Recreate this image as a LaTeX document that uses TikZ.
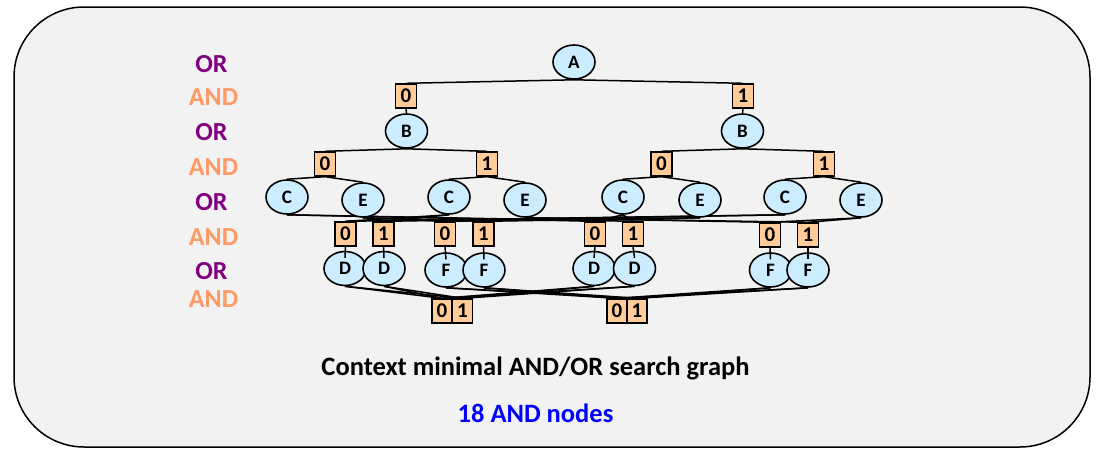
\documentclass[tikz,border=0pt]{standalone}
\usepackage{fontspec}
\setmainfont{Carlito}
\usetikzlibrary{calc,backgrounds,shapes.geometric}
\definecolor{orfill}{RGB}{204,236,255}
\definecolor{andfill}{RGB}{255,204,153}
\definecolor{panel}{RGB}{242,242,242}
\definecolor{orlab}{RGB}{128,0,128}
\definecolor{andlab}{RGB}{255,153,102}
\definecolor{countblue}{RGB}{0,0,255}
\begin{document}
\begin{tikzpicture}[x=1pt,y=-1pt,
  ornode/.style={ellipse,draw,line width=1.6pt,fill=orfill,minimum width=42pt,minimum height=34pt,inner sep=0pt,font=\fontsize{19}{19}\selectfont\bfseries},
  andnode/.style={rectangle,draw,line width=1.4pt,fill=andfill,minimum width=21pt,minimum height=24pt,inner sep=0pt,font=\fontsize{21}{21}\selectfont\bfseries},
  edge/.style={line width=1.5pt},
  lvl/.style={anchor=base,font=\fontsize{26}{26}\selectfont\bfseries},
  orlvl/.style={lvl,text=orlab},
  andlvl/.style={lvl,text=andlab},
  caption/.style={anchor=base,font=\fontsize{26.5}{26.5}\selectfont\bfseries}]

\useasboundingbox (0,0) rectangle (1096,455);

% level labels
\node[orlvl]  (l1) at (211.5,72)  {OR};
\node[andlvl] (l2) at (213.5,105) {AND};
\node[orlvl]  (l3) at (211.5,140) {OR};
\node[andlvl] (l4) at (213.5,175) {AND};
\node[orlvl]  (l5) at (211.5,210) {OR};
\node[andlvl] (l6) at (213.5,245) {AND};
\node[orlvl]  (l7) at (211.5,279) {OR};
\node[andlvl] (l8) at (213.5,307) {AND};

% variable A
\node[ornode] (A) at (574,62) {A};
\node[andnode] (a0) at (406,96) {0};
\node[andnode] (a1) at (743,96) {1};

% variable B
\node[ornode] (B0) at (406.5,131) {B};
\node[ornode] (B1) at (742.5,131) {B};
\node[andnode] (b00) at (325,164) {0};
\node[andnode] (b01) at (487,164) {1};
\node[andnode] (b10) at (661.5,164) {0};
\node[andnode] (b11) at (824,164) {1};

% variables C and E
\node[ornode] (C00) at (287,197) {C};
\node[ornode] (E00) at (363,200) {E};
\node[ornode] (C01) at (449,197) {C};
\node[ornode] (E01) at (525,200) {E};
\node[ornode] (C10) at (623,197) {C};
\node[ornode] (E10) at (700,200) {E};
\node[ornode] (C11) at (785,197) {C};
\node[ornode] (E11) at (861,200) {E};

% merged value nodes of C and E
\node[andnode] (cL0) at (345.5,234) {0};
\node[andnode] (cL1) at (383.5,234) {1};
\node[andnode] (eL0) at (445,234) {0};
\node[andnode] (eL1) at (483.5,234) {1};
\node[andnode] (cR0) at (595,234) {0};
\node[andnode] (cR1) at (633,234) {1};
\node[andnode] (eR0) at (770,235) {0};
\node[andnode] (eR1) at (808,235) {1};

% variables D and F
\node[ornode] (DL0) at (345,268.5) {D};
\node[ornode] (DL1) at (384,268.5) {D};
\node[ornode] (FL0) at (446,270) {F};
\node[ornode] (FL1) at (484,270) {F};
\node[ornode] (DR0) at (594,268.5) {D};
\node[ornode] (DR1) at (634.5,268.5) {D};
\node[ornode] (FR0) at (770.5,270) {F};
\node[ornode] (FR1) at (808,270) {F};

% shared leaf values
\node[andnode,minimum width=20pt] (t0) at (442,311) {0};
\node[andnode,minimum width=20pt] (t1) at (462.5,311) {1};
\node[andnode,minimum width=20pt] (u0) at (617,311) {0};
\node[andnode,minimum width=20pt] (u1) at (637,311) {1};

\begin{scope}[on background layer]
  \fill[white] (0,0) rectangle (1096,455);
  \draw[line width=1.5pt,fill=panel,rounded corners=70pt] (14,7) rectangle (1090,447);
  \draw[edge] (A.south) -- (a0.north);
  \draw[edge] (A.south) -- (a1.north);
  \draw[edge] (a0.south) -- (B0.north);
  \draw[edge] (a1.south) -- (B1.north);
  \draw[edge] (B0.south) -- (b00.north);
  \draw[edge] (B0.south) -- (b01.north);
  \draw[edge] (B1.south) -- (b10.north);
  \draw[edge] (B1.south) -- (b11.north);
  \foreach \p/\c/\e in {b00/C00/E00,b01/C01/E01,b10/C10/E10,b11/C11/E11}{
    \draw[edge] (\p.south) -- (\c.north);
    \draw[edge] (\p.south) -- (\e.north);
  }
  \foreach \o/\v in {C00/cR,C10/cR,C01/cL,C11/cL,E00/eL,E10/eL,E01/eR,E11/eR}{
    \draw[edge] (\o.south) -- (\v0.north);
    \draw[edge] (\o.south) -- (\v1.north);
  }
  \foreach \o in {DL0,DL1,DR0,DR1}{
    \draw[edge] (\o.south) -- (t0.north);
    \draw[edge] (\o.south) -- (t1.north);
  }
  \foreach \o in {FL0,FL1,FR0,FR1}{
    \draw[edge] (\o.south) -- (u0.north);
    \draw[edge] (\o.south) -- (u1.north);
  }
\end{scope}

% value node to its single child
\foreach \v/\o in {cL0/DL0,cL1/DL1,eL0/FL0,eL1/FL1,cR0/DR0,cR1/DR1,eR0/FR0,eR1/FR1}{
  \draw[edge] (\v.south) -- ($(\o.north)!0.4!(\o.center)$);
}

\node[caption] (cap) at (535.5,375) {Context minimal AND/OR search graph};
\node[caption,text=countblue] (cnt) at (535.5,422) {18 AND nodes};
\end{tikzpicture}
\end{document}
